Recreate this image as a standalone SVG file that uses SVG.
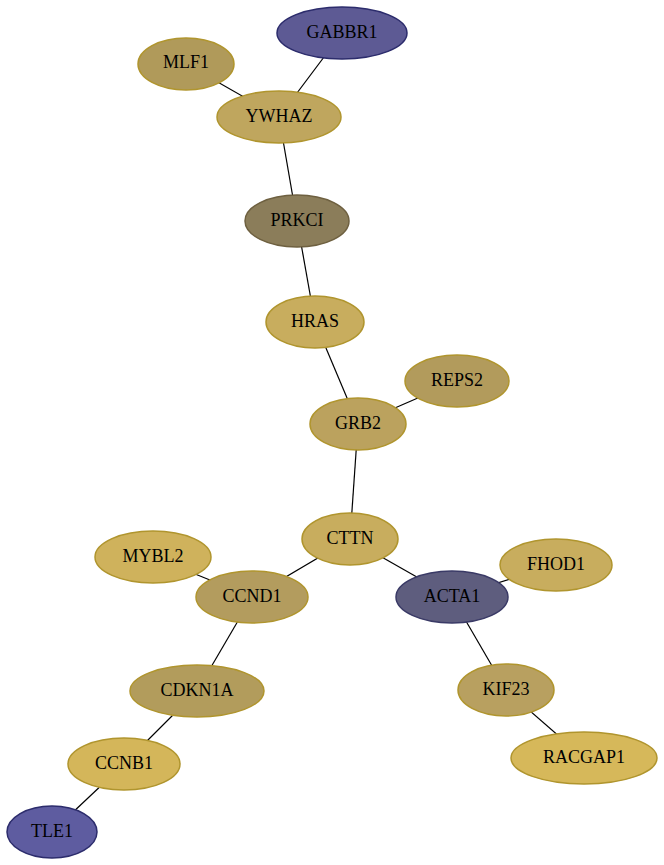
<svg xmlns="http://www.w3.org/2000/svg" width="664" height="865" viewBox="0 0 664 865">
<style>
.edge{stroke:#000;stroke-width:1.2;fill:none}
.g ellipse{stroke:#b0952e;stroke-width:1.5}
.b ellipse{stroke:#2c2c6c;stroke-width:1.5}
text{font-family:"Liberation Serif","Times New Roman",serif;font-size:18px;text-anchor:middle;fill:#000}
</style>
<rect width="664" height="865" fill="#fff"/>
<g id="edges">
<line class="edge" x1="342" y1="33" x2="279" y2="117"/>
<line class="edge" x1="186" y1="64" x2="279" y2="117"/>
<line class="edge" x1="279" y1="117" x2="297" y2="221"/>
<line class="edge" x1="297" y1="221" x2="315" y2="322"/>
<line class="edge" x1="315" y1="322" x2="358" y2="424"/>
<line class="edge" x1="457" y1="381" x2="358" y2="424"/>
<line class="edge" x1="358" y1="424" x2="350" y2="539"/>
<line class="edge" x1="350" y1="539" x2="252" y2="597"/>
<line class="edge" x1="350" y1="539" x2="452" y2="597"/>
<line class="edge" x1="153" y1="557" x2="252" y2="597"/>
<line class="edge" x1="556" y1="565" x2="452" y2="597"/>
<line class="edge" x1="252" y1="597" x2="197" y2="691"/>
<line class="edge" x1="452" y1="597" x2="506" y2="690"/>
<line class="edge" x1="197" y1="691" x2="124" y2="764"/>
<line class="edge" x1="506" y1="690" x2="584" y2="758"/>
<line class="edge" x1="124" y1="764" x2="52" y2="832"/>
</g>
<g id="GABBR1" class="b"><ellipse cx="342" cy="33" rx="65" ry="26" fill="#5d5a94"/><text x="342" y="38">GABBR1</text></g>
<g id="MLF1" class="g"><ellipse cx="186" cy="64" rx="48" ry="26" fill="#b09a5a"/><text x="186" y="68">MLF1</text></g>
<g id="YWHAZ" class="g"><ellipse cx="279" cy="117" rx="62" ry="26" fill="#bfa65e"/><text x="279" y="122">YWHAZ</text></g>
<g id="PRKCI" class="g"><ellipse cx="297" cy="221" rx="52" ry="26" fill="#8b7d5a" style="stroke:#6e6040"/><text x="297" y="226">PRKCI</text></g>
<g id="HRAS" class="g"><ellipse cx="315" cy="322" rx="49" ry="26" fill="#c8ad5e"/><text x="315" y="327">HRAS</text></g>
<g id="REPS2" class="g"><ellipse cx="457" cy="381" rx="52" ry="26" fill="#b29b5c"/><text x="457" y="386">REPS2</text></g>
<g id="GRB2" class="g"><ellipse cx="358" cy="424" rx="48" ry="26" fill="#bba25e"/><text x="358" y="429">GRB2</text></g>
<g id="CTTN" class="g"><ellipse cx="350" cy="539" rx="48" ry="26" fill="#c8ad5e"/><text x="350" y="544">CTTN</text></g>
<g id="MYBL2" class="g"><ellipse cx="153" cy="557" rx="58" ry="26" fill="#cfb25c"/><text x="153" y="562">MYBL2</text></g>
<g id="FHOD1" class="g"><ellipse cx="556" cy="565" rx="56" ry="26" fill="#c8ad5e"/><text x="556" y="570">FHOD1</text></g>
<g id="CCND1" class="g"><ellipse cx="252" cy="597" rx="56" ry="26" fill="#b39c5e"/><text x="252" y="602">CCND1</text></g>
<g id="ACTA1" class="b"><ellipse cx="452" cy="597" rx="56" ry="26" fill="#5e5d7e" style="stroke:#3a3a66"/><text x="452" y="602">ACTA1</text></g>
<g id="CDKN1A" class="g"><ellipse cx="197" cy="691" rx="67" ry="26" fill="#b29c5c"/><text x="197" y="696">CDKN1A</text></g>
<g id="KIF23" class="g"><ellipse cx="506" cy="690" rx="48" ry="26" fill="#b8a060"/><text x="506" y="695">KIF23</text></g>
<g id="CCNB1" class="g"><ellipse cx="124" cy="764" rx="56" ry="26" fill="#d4b65a"/><text x="124" y="769">CCNB1</text></g>
<g id="RACGAP1" class="g"><ellipse cx="584" cy="758" rx="73" ry="26" fill="#d6b85a"/><text x="584" y="763">RACGAP1</text></g>
<g id="TLE1" class="b"><ellipse cx="52" cy="832" rx="45" ry="26" fill="#5e5ca0"/><text x="52" y="837">TLE1</text></g>
</svg>
